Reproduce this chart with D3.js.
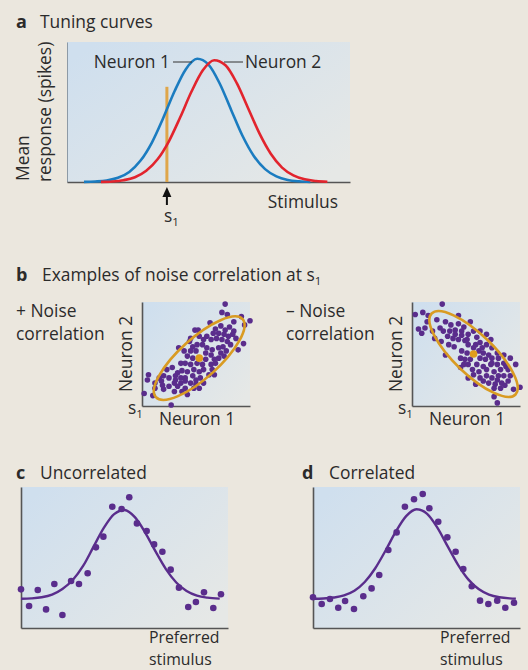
<!DOCTYPE html>
<html><head><meta charset="utf-8">
<script src="https://cdn.jsdelivr.net/npm/d3@7"></script>
<style>
html,body{margin:0;padding:0;background:#ebe7de;}
svg{display:block;}
text{font-family:"Open Sans","Noto Sans",sans-serif;fill:#2b2b2b;}
</style></head><body>
<svg id="fig" width="528" height="670"></svg>
<script>
// ---------- DATA ----------
// Panel a: tuning curves (stimulus 0-100, mean response 0-100)
const neuron1Stim = [6,10,14,18,22,26,30,34,38,42,46,50,54,58,62,66,70,74,78,82,86];
const neuron1Resp = [0.1,0.4,1.1,3.0,7.2,15.3,28.2,45.7,64.8,80.6,88,83.9,70.2,51.5,33,18.6,9.2,4.0,1.5,0.5,0.1];
const neuron2Stim = [12,16,20,24,28,32,36,40,44,48,52,56,60,64,68,72,76,80,84,88,92];
const neuron2Resp = [0.1,0.4,1.3,3.4,8.0,16.2,29.1,46.2,64.6,79.8,87,83.4,70.6,52.7,34.7,20.2,10.3,4.7,1.9,0.7,0.2];
const s1 = 35.3;
const curveLabels = ["Neuron 1", "Neuron 2"];

// Panel b: responses of neuron 1 vs neuron 2 at s1
const posCorr = [[77,98],[74,90],[79,88],[92,86],[100,82],[95,78],[63,80],[49,73],[52,73],[68,74],[73,77],[77,73],[81,76],[85,72],[66,70],[71,70],[76,69],[80,67],[84,69],[87,65],[60,67],[57,64],[64,64],[69,65],[74,64],[79,62],[82,59],[94,60],[89,54],[44,62],[47,57],[51,59],[56,59],[60,56],[65,54],[71,56],[75,57],[78,53],[73,51],[45,53],[50,53],[59,51],[64,49],[71,46],[67,45],[76,48],[34,56],[39,53],[42,48],[47,46],[59,45],[36,41],[40,41],[45,40],[51,41],[56,40],[64,40],[68,41],[65,35],[57,35],[23,35],[28,37],[33,32],[37,34],[42,33],[48,35],[53,33],[62,30],[67,30],[20,29],[25,27],[31,29],[36,27],[40,27],[47,29],[50,25],[54,27],[16,27],[18,24],[30,22],[36,22],[40,24],[45,22],[50,21],[6,30],[5,25],[12,22],[19,20],[25,19],[33,19],[40,17],[48,17],[12,17],[20,16],[30,14],[42,11],[2,12],[10,10],[27,1],[53,17],[37,14],[31,25],[57,22],[45,65],[53,67],[85,81]];
const negCorr = [[28,98],[3,88],[10,90],[15,87],[14,81],[6,74],[12,75],[9,70],[23,83],[43,87],[26,75],[31,81],[36,78],[43,79],[48,76],[54,81],[29,72],[35,72],[40,73],[46,72],[52,69],[57,72],[63,72],[21,65],[27,62],[33,67],[38,65],[43,64],[49,63],[60,66],[69,69],[39,57],[52,59],[57,56],[63,61],[69,59],[74,56],[46,53],[51,51],[62,53],[66,51],[71,49],[79,51],[85,49],[31,49],[45,46],[49,45],[54,45],[63,46],[68,45],[74,46],[80,46],[91,46],[48,40],[52,40],[60,40],[66,38],[73,40],[79,40],[85,41],[96,40],[45,37],[56,35],[62,33],[69,35],[76,33],[82,35],[89,35],[52,27],[63,27],[69,29],[74,27],[80,29],[85,29],[91,29],[71,22],[77,21],[83,22],[89,24],[76,17],[82,17],[94,16],[100,18],[76,9],[79,3],[59,59],[65,56],[73,64],[57,30],[66,24],[34,59],[79,25],[86,20],[51,64],[40,69],[46,68],[74,41],[87,38],[19,72],[59,21]];
const posMean = [53,46];
const negMean = [57,50];
// covariance ellipse: [semi-major, semi-minor] in data units, tilt in degrees
const posEllipse = [54,19,42];
const negEllipse = [54,19,-44];

// Panels c, d: population response vs preferred stimulus
const cCurveX = [0,5,10,15,20,25,30,35,40,45,50,55,60,65,70,75,80,85,90,96];
const cCurveY = [20.7,21.0,21.8,23.7,27.7,34.0,44.0,57.5,71.0,80.8,83.7,78.6,67.7,54.3,41.8,32.3,26.3,23.0,21.5,20.8];
const cDotsX = [0,3.9,8.1,12.1,16.1,20.0,24.2,28.0,32.2,36.2,39.8,44.1,48.6,52.3,56.0,60.7,64.3,68.3,72.3,76.3,80.8,84.5,88.4,92.9,96.6];
const cDotsY = [27.4,15.6,27.0,13.2,31.2,9.2,33.3,31.2,38.8,57.2,64.8,86.0,84.4,92.7,74.2,68.8,59.3,54.1,41.4,28.6,14.9,18.4,25.3,14.2,23.9];
const dCurveX = [0,5,10,15,20,25,30,35,40,45,50,55,60,65,70,75,80,85,90,95,98];
const dCurveY = [20.7,20.9,21.6,23.1,26.4,32.6,42.2,54.8,68.3,79.3,84.2,81.1,71.4,58.1,45.0,34.5,27.6,23.7,21.8,21.0,20.8];
const dDotsX = [0,4.2,8.2,12.2,15.5,19.8,24.3,28.3,32.0,36.4,40.4,44.4,48.8,53.0,56.2,60.5,64.9,68.9,72.6,76.7,80.7,84.7,89.0,92.9,97.1];
const dDotsY = [21.8,17.0,20.6,14.4,19.1,13.5,22.5,28.1,37.6,55.3,67.8,86.0,91.3,95.0,84.9,75.4,64.3,54.1,41.8,29.6,19.4,17.0,19.4,14.4,17.9];

// ---------- DRAW ----------
const FS = 17.4;
const BLUE = "#1b7cc0", RED = "#e2242d", ORANGE = "#dfa64a", GOLD = "#d99b22", PURPLE = "#5a2d8c", AXIS = "#555";
const svg = d3.select("#fig");
svg.append("rect").attr("width",528).attr("height",670).attr("fill","#ebe7de");
const defs = svg.append("defs");
const g0 = defs.append("linearGradient").attr("id","bg").attr("x1",0).attr("y1",0.15).attr("x2",1).attr("y2",0.85);
g0.append("stop").attr("offset","0%").attr("stop-color","#cfdfee");
g0.append("stop").attr("offset","100%").attr("stop-color","#e6e8e6");

function panel(xr, yr, leftColor) {
  const x = d3.scaleLinear([0,100], xr);
  const y = d3.scaleLinear([0,100], yr);
  svg.append("rect").attr("x",xr[0]).attr("y",yr[1]).attr("width",xr[1]-xr[0]).attr("height",yr[0]-yr[1]).attr("fill","url(#bg)");
  const gl = svg.append("g").attr("transform",`translate(${xr[0]},0)`).call(d3.axisLeft(y).tickValues([]).tickSizeOuter(0));
  gl.select(".domain").attr("stroke",leftColor||AXIS).attr("stroke-width",leftColor?1:1.6);
  const gb = svg.append("g").attr("transform",`translate(0,${yr[0]})`).call(d3.axisBottom(x).tickValues([]).tickSizeOuter(0));
  gb.select(".domain").attr("stroke",AXIS).attr("stroke-width",1.6);
  return {x,y};
}
function title(x, y, letter, label, lx) {
  svg.append("text").attr("x",x).attr("y",y).attr("font-size",18).attr("font-weight",700).text(letter);
  return svg.append("text").attr("x",lx).attr("y",y).attr("font-size",FS).text(label);
}
function sub(sel, base, s) {
  sel.append("tspan").text(base);
  sel.append("tspan").attr("font-size",11.5).attr("dy",4).text(s);
}

// ----- a -----
title(16,28,"a","Tuning curves",40);
const A = panel([67,350],[182,42],"#8d9aa6");
const lineA = d3.line().x(d=>A.x(d[0])).y(d=>A.y(d[1])).curve(d3.curveMonotoneX);
svg.append("line").attr("x1",A.x(s1)).attr("x2",A.x(s1)).attr("y1",A.y(0)).attr("y2",A.y(68)).attr("stroke",ORANGE).attr("stroke-width",3);
svg.append("path").datum(d3.zip(neuron1Stim,neuron1Resp)).attr("d",lineA).attr("fill","none").attr("stroke",BLUE).attr("stroke-width",2.6);
svg.append("path").datum(d3.zip(neuron2Stim,neuron2Resp)).attr("d",lineA).attr("fill","none").attr("stroke",RED).attr("stroke-width",2.6);
svg.append("text").attr("x",170).attr("y",68).attr("font-size",FS).attr("text-anchor","end").text(curveLabels[0]);
svg.append("line").attr("x1",173).attr("x2",192).attr("y1",62).attr("y2",62).attr("stroke","#333").attr("stroke-width",1);
svg.append("line").attr("x1",224).attr("x2",243).attr("y1",62).attr("y2",62).attr("stroke","#333").attr("stroke-width",1);
svg.append("text").attr("x",245).attr("y",68).attr("font-size",FS).text(curveLabels[1]);
// y label
svg.append("text").attr("transform","translate(29,181) rotate(-90)").attr("font-size",FS).text("Mean");
svg.append("text").attr("transform","translate(51,182) rotate(-90)").attr("font-size",FS).text("response (spikes)");
svg.append("text").attr("x",338).attr("y",208).attr("font-size",FS).attr("text-anchor","end").text("Stimulus");
// arrow at s1
const ax = A.x(s1);
svg.append("line").attr("x1",ax).attr("x2",ax).attr("y1",205).attr("y2",194).attr("stroke","#111").attr("stroke-width",2);
svg.append("path").attr("d",`M${ax},187 L${ax-4.5},197 L${ax+4.5},197 Z`).attr("fill","#111");
sub(svg.append("text").attr("x",ax-3).attr("y",222).attr("font-size",FS),"s","1");

// ----- b -----
svg.append("text").attr("x",16).attr("y",281).attr("font-size",18).attr("font-weight",700).text("b");
sub(svg.append("text").attr("x",42).attr("y",281).attr("font-size",FS),"Examples of noise correlation at s","1");

function scatterPanel(x0, pts, mean, ell, lab1, lab2, labX) {
  const P = panel([x0, x0+108],[406,302]);
  svg.append("text").attr("x",labX).attr("y",317).attr("font-size",FS).text(lab1);
  svg.append("text").attr("x",labX).attr("y",340).attr("font-size",FS).text(lab2);
  svg.append("g").selectAll("circle").data(pts).join("circle")
    .attr("cx",d=>P.x(d[0])).attr("cy",d=>P.y(d[1])).attr("r",2.8).attr("fill",PURPLE);
  const rx = P.x(ell[0]) - P.x(0), ry = P.y(0) - P.y(ell[1]);
  svg.append("ellipse").attr("transform",`translate(${P.x(mean[0])},${P.y(mean[1])}) rotate(${-ell[2]})`)
    .attr("rx",rx).attr("ry",ry).attr("fill","none").attr("stroke",GOLD).attr("stroke-width",2.6);
  svg.append("circle").attr("cx",P.x(mean[0])).attr("cy",P.y(mean[1])).attr("r",3.8).attr("fill","#e09d1c");
  svg.append("text").attr("transform",`translate(${x0-10},354) rotate(-90)`).attr("font-size",FS).attr("text-anchor","middle").text("Neuron 2");
  svg.append("text").attr("x",x0+55).attr("y",425).attr("font-size",FS).attr("text-anchor","middle").text("Neuron 1");
  sub(svg.append("text").attr("x",x0-14).attr("y",414).attr("font-size",FS),"s","1");
}
scatterPanel(142, posCorr, posMean, posEllipse, "+ Noise", "correlation", 16);
scatterPanel(412, negCorr, negMean, negEllipse, "\u2013 Noise", "correlation", 286);

// ----- c, d -----
function popPanel(x0, cx, cy, dx, dy, letter, label, tx, lx, prefX) {
  title(tx, 479, letter, label, lx);
  const P = panel([x0, x0+207],[628,487]);
  const ln = d3.line().x(d=>P.x(d[0])).y(d=>P.y(d[1])).curve(d3.curveMonotoneX);
  svg.append("path").datum(d3.zip(cx,cy)).attr("d",ln).attr("fill","none").attr("stroke",PURPLE).attr("stroke-width",2.4);
  svg.append("g").selectAll("circle").data(d3.zip(dx,dy)).join("circle")
    .attr("cx",d=>P.x(d[0])).attr("cy",d=>P.y(d[1])).attr("r",3.3).attr("fill",PURPLE);
  svg.append("text").attr("x",prefX).attr("y",643).attr("font-size",15.8).text("Preferred");
  svg.append("text").attr("x",prefX).attr("y",665).attr("font-size",15.8).text("stimulus");
}
popPanel(21, cCurveX, cCurveY, cDotsX, cDotsY, "c", "Uncorrelated", 16, 40, 149);
popPanel(313, dCurveX, dCurveY, dDotsX, dDotsY, "d", "Correlated", 302, 329, 440);
</script></body></html>
